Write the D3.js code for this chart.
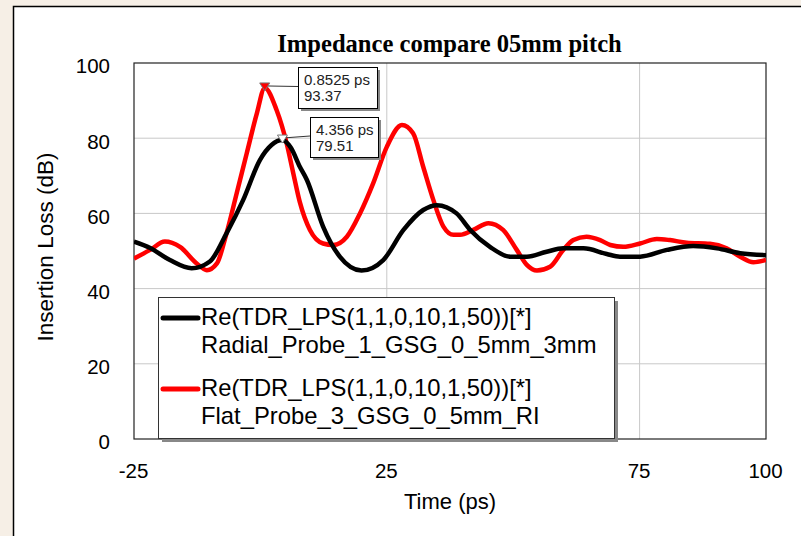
<!DOCTYPE html>
<html><head><meta charset="utf-8">
<script src="https://cdn.jsdelivr.net/npm/d3@7"></script>
<style>
html,body{margin:0;padding:0;background:#f6efe6;}
svg{display:block;}
</style></head>
<body>
<script>
// ---- data ----
const title = "Impedance compare 05mm pitch";
const xLabel = "Time (ps)";
const yLabel = "Insertion Loss (dB)";
const xTicks = [-25, 25, 75, 100];
const xGrid = [25, 75];
const yTicks = [0, 20, 40, 60, 80, 100];
const seriesNames = [
  ["Re(TDR_LPS(1,1,0,10,1,50))[*]", "Radial_Probe_1_GSG_0_5mm_3mm"],
  ["Re(TDR_LPS(1,1,0,10,1,50))[*]", "Flat_Probe_3_GSG_0_5mm_RI"]
];
const seriesColors = ["#000000", "#ff0000"];
const radialX = [-25,-21.8,-17.9,-13.6,-10,-6.7,-3.4,-0.1,2.2,4.356,6,7.8,9.2,12.4,15.7,20,24.3,28.3,32.2,34.9,38.8,41.5,45.4,49.4,52.7,56.6,59.9,63.9,68.5,71.1,75.1,80.4,85.6,90.3,94.9,100];
const radialY = [52.5,50.8,47.6,45.4,47.2,54.7,63.6,74.2,78.2,79.51,77.5,72.4,68.9,56.5,48.5,44.8,47.6,55.6,60.9,62.2,60.0,55.6,51.1,48.5,48.5,49.8,50.7,50.7,49.2,48.5,48.5,50.3,51.3,50.7,49.4,48.9];
const flatX = [-25,-21.8,-18.9,-15.9,-12.6,-10.6,-8.6,-6.7,-4.7,-2.7,-0.7,0.8525,3.2,5.2,6.5,7.8,9.8,12.4,14.4,17.1,19.7,22.3,25,28,30.2,32.2,34.2,36.2,38.2,39.5,42.1,45.1,48,50.7,52.7,54.7,57.3,59.9,61.9,64.5,67.2,69.2,71.8,75.1,78.4,81,84.3,88.9,92.2,94.9,97.5,100];
const flatY = [48.0,50.3,52.5,51.1,46.7,44.9,46.7,54.7,65.3,76.0,86.6,93.37,87.5,78.6,70.7,63,55.6,52.0,51.6,53.8,60.0,68.0,77.7,83.5,81.3,72.4,63.6,56.5,54.3,54.3,55.6,57.4,55.6,50.3,46.3,44.8,45.8,50.3,52.9,53.8,52.9,51.6,51.1,52.0,53.2,52.9,52.2,51.9,50.7,48.5,47.0,47.6];
const markerX = [0.8525, 4.356];
const markerY = [93.37, 79.51];
const markerText = [["0.8525 ps", "93.37"], ["4.356 ps", "79.51"]];

// ---- layout ----
const W = 801, H = 536;
const m = {left: 134, top: 63, right: 766, bottom: 439};
const svg = d3.select("body").append("svg").attr("width", W).attr("height", H);

svg.append("rect").attr("x", 13.5).attr("y", 6.5).attr("width", W).attr("height", H)
  .attr("fill", "#fff").attr("stroke", "#000").attr("stroke-width", 1.5);

const x = d3.scaleLinear().domain([-25, 100]).range([m.left, m.right]);
const y = d3.scaleLinear().domain([0, 100]).range([m.bottom, m.top]);

// grid
svg.append("g").selectAll("line").data(yTicks.filter(d => d > 0 && d < 100)).join("line")
  .attr("x1", m.left).attr("x2", m.right).attr("y1", d => y(d)).attr("y2", d => y(d))
  .attr("stroke", "#c8c8c8").attr("stroke-width", 1);
svg.append("g").selectAll("line").data(xGrid).join("line")
  .attr("y1", m.top).attr("y2", m.bottom).attr("x1", d => x(d)).attr("x2", d => x(d))
  .attr("stroke", "#c8c8c8").attr("stroke-width", 1);

// frame
svg.append("rect").attr("x", m.left).attr("y", m.top).attr("width", m.right - m.left).attr("height", m.bottom - m.top)
  .attr("fill", "none").attr("stroke", "#222").attr("stroke-width", 1.2);

// axes labels via d3 axes (no lines)
const fmt = d => String(d);
const yAxis = svg.append("g").attr("transform", `translate(${m.left - 24},0)`)
  .call(d3.axisLeft(y).tickValues(yTicks).tickSize(0).tickPadding(0).tickFormat(fmt));
yAxis.select(".domain").remove();
yAxis.selectAll("text").attr("font-family", "Arial, 'Liberation Sans', sans-serif").attr("font-size", 20.5)
  .attr("fill", "#000").attr("dy", "0.48em");

const xAxis = svg.append("g").attr("transform", `translate(0,${m.bottom + 39})`)
  .call(d3.axisBottom(x).tickValues(xTicks).tickSize(0).tickPadding(0).tickFormat(fmt));
xAxis.select(".domain").remove();
xAxis.selectAll("text").attr("font-family", "Arial, 'Liberation Sans', sans-serif").attr("font-size", 20.5)
  .attr("fill", "#000").attr("dy", 0).attr("dx", -1);

// title + axis titles
svg.append("text").attr("x", 449.5).attr("y", 51.5).attr("text-anchor", "middle")
  .attr("font-family", "'Times New Roman', 'Liberation Serif', serif").attr("font-weight", "bold")
  .attr("font-size", 24.6).text(title);
svg.append("text").attr("x", 450).attr("y", 509).attr("text-anchor", "middle")
  .attr("font-family", "Arial, 'Liberation Sans', sans-serif").attr("font-size", 22).text(xLabel);
svg.append("text").attr("transform", "translate(53,247) rotate(-90)").attr("text-anchor", "middle")
  .attr("font-family", "Arial, 'Liberation Sans', sans-serif").attr("font-size", 22.5).text(yLabel);

// lines
const line = d3.line().x(d => x(d[0])).y(d => y(d[1])).curve(d3.curveMonotoneX);
const radial = d3.zip(radialX, radialY);
const flat = d3.zip(flatX, flatY);
const clip = svg.append("clipPath").attr("id", "clip").append("rect")
  .attr("x", m.left).attr("y", m.top).attr("width", m.right - m.left).attr("height", m.bottom - m.top);
const plot = svg.append("g").attr("clip-path", "url(#clip)");
plot.append("path").datum(flat).attr("d", line).attr("fill", "none").attr("stroke", seriesColors[1])
  .attr("stroke-width", 4.5).attr("stroke-linejoin", "round");
plot.append("path").datum(radial).attr("d", line).attr("fill", "none").attr("stroke", seriesColors[0])
  .attr("stroke-width", 4.5).attr("stroke-linejoin", "round");

// markers
const boxes = [{bx: 298, by: 67, bw: 79, bh: 41}, {bx: 310, by: 117, bw: 68, bh: 40}];
markerX.forEach((mx, i) => {
  const px = x(mx), py = y(markerY[i]);
  const b = boxes[i];
  svg.append("line").attr("x1", px).attr("y1", py - 2).attr("x2", b.bx).attr("y2", b.by + b.bh / 2 - 1)
    .attr("stroke", "#333").attr("stroke-width", 1);
  svg.append("path").attr("d", `M${px - 5},${py - 5}L${px + 5},${py - 5}L${px},${py + 3}Z`)
    .attr("fill", i === 0 ? "#ff0000" : "#fff").attr("stroke", "#777").attr("stroke-width", 1);
  svg.append("rect").attr("x", b.bx + 3).attr("y", b.by + 3).attr("width", b.bw).attr("height", b.bh).attr("fill", "#888");
  svg.append("rect").attr("x", b.bx + 0.5).attr("y", b.by + 0.5).attr("width", b.bw).attr("height", b.bh)
    .attr("fill", "#fff").attr("stroke", "#000").attr("stroke-width", 1);
  markerText[i].forEach((t, j) => {
    svg.append("text").attr("x", b.bx + 6).attr("y", b.by + 18 + j * 16)
      .attr("font-family", "Arial, 'Liberation Sans', sans-serif").attr("font-size", 15).attr("fill", "#222").text(t);
  });
});

// legend
const L = {x: 158, y: 297, w: 456, h: 141};
svg.append("rect").attr("x", L.x + 4).attr("y", L.y + 4).attr("width", L.w).attr("height", L.h).attr("fill", "#888");
svg.append("rect").attr("x", L.x + 0.5).attr("y", L.y + 0.5).attr("width", L.w).attr("height", L.h)
  .attr("fill", "#fff").attr("stroke", "#333").attr("stroke-width", 1);
seriesNames.forEach((names, i) => {
  const ly = 318 + i * 71;
  svg.append("line").attr("x1", 163).attr("x2", 198).attr("y1", ly).attr("y2", ly)
    .attr("stroke", seriesColors[i]).attr("stroke-width", 5).attr("stroke-linecap", "round");
  names.forEach((t, j) => {
    svg.append("text").attr("x", 201).attr("y", ly + 7 + j * 28)
      .attr("font-family", "Arial, 'Liberation Sans', sans-serif").attr("font-size", 23.8).attr("fill", "#000").text(t);
  });
});
</script>
</body></html>
